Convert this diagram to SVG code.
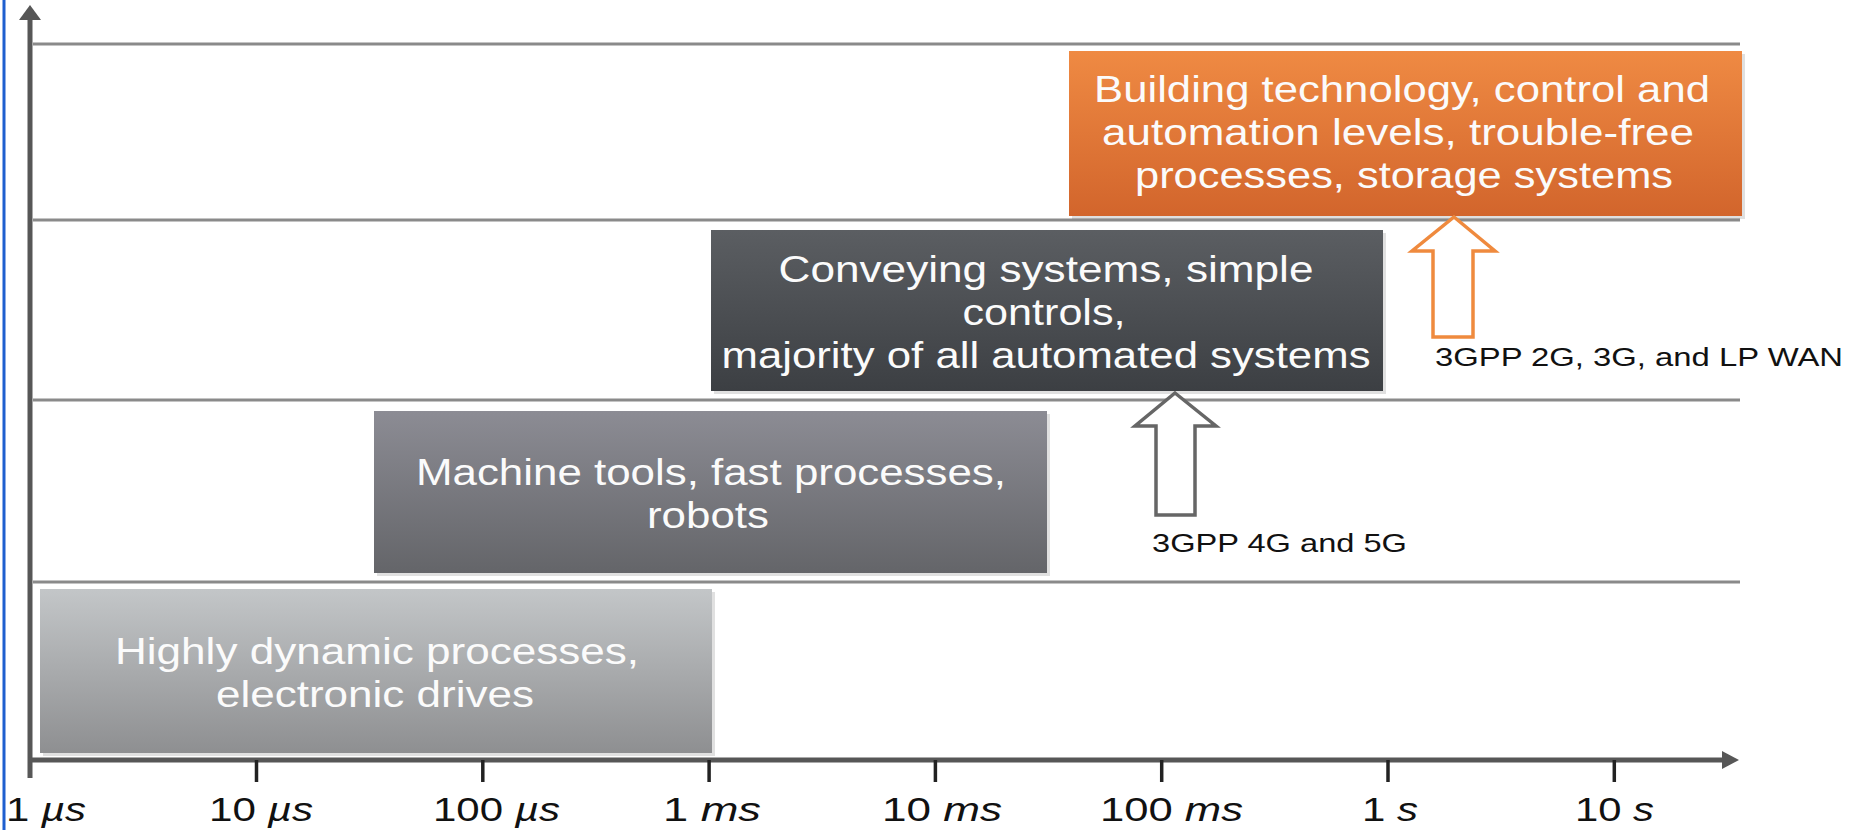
<svg xmlns="http://www.w3.org/2000/svg" width="1858" height="830" viewBox="0 0 1858 830">
  <style>
    .grid { stroke: #8a8a8a; stroke-width: 2.8; fill: none; }
    .axis { stroke: #575757; stroke-width: 5; fill: none; }
    .tick { stroke: #222; stroke-width: 3.5; }
    .ax-head { fill: #575757; }
    .box-text { font-family: "Liberation Sans", Arial, sans-serif; font-size: 36px; fill: #fbfbfb; text-anchor: middle; }
    .tick-label { font-family: "Liberation Sans", Arial, sans-serif; font-size: 34px; fill: #111; }
    .unit { font-style: italic; }
    .note { font-family: "Liberation Sans", Arial, sans-serif; font-size: 26px; fill: #111; }
    .box-shadow { fill: #000; opacity: 0.12; }
  </style>
  <defs>
    <linearGradient id="g-light" x1="0" y1="0" x2="0" y2="1">
      <stop offset="0" stop-color="#c3c6c8"/>
      <stop offset="1" stop-color="#8e8f91"/>
    </linearGradient>
    <linearGradient id="g-mid" x1="0" y1="0" x2="0" y2="1">
      <stop offset="0" stop-color="#8c8c94"/>
      <stop offset="1" stop-color="#646569"/>
    </linearGradient>
    <linearGradient id="g-dark" x1="0" y1="0" x2="0" y2="1">
      <stop offset="0" stop-color="#5b5e62"/>
      <stop offset="1" stop-color="#3c3f43"/>
    </linearGradient>
    <linearGradient id="g-orange" x1="0" y1="0" x2="0" y2="1">
      <stop offset="0" stop-color="#ef8a43"/>
      <stop offset="1" stop-color="#d2652c"/>
    </linearGradient>
  </defs>

  <rect width="1858" height="830" fill="#ffffff"/>
  <!-- left frame edge -->
  <line x1="4" y1="0" x2="4" y2="830" stroke="#1f5fcf" stroke-width="3"/>

  <!-- horizontal level lines -->
  <g id="grid">
    <line class="grid" x1="33" y1="44" x2="1740" y2="44"/>
    <line class="grid" x1="33" y1="220" x2="1740" y2="220"/>
    <line class="grid" x1="33" y1="400" x2="1740" y2="400"/>
    <line class="grid" x1="33" y1="582" x2="1740" y2="582"/>
  </g>

  <!-- axes with ticks -->
  <g id="axes">
    <line class="axis" x1="30" y1="778" x2="30" y2="16"/>
    <polygon class="ax-head" points="30,5 19,20 41,20"/>
    <line class="axis" x1="28" y1="760" x2="1724" y2="760"/>
    <polygon class="ax-head" points="1739,760 1722,751 1722,769"/>
    <line class="tick" x1="256.5" y1="760" x2="256.5" y2="782"/>
    <line class="tick" x1="482.8" y1="760" x2="482.8" y2="782"/>
    <line class="tick" x1="709.1" y1="760" x2="709.1" y2="782"/>
    <line class="tick" x1="935.4" y1="760" x2="935.4" y2="782"/>
    <line class="tick" x1="1161.7" y1="760" x2="1161.7" y2="782"/>
    <line class="tick" x1="1388" y1="760" x2="1388" y2="782"/>
    <line class="tick" x1="1614.3" y1="760" x2="1614.3" y2="782"/>
  </g>

  <!-- time scale labels -->
  <g id="tick-labels">
    <text class="tick-label" x="6" y="821" textLength="80" lengthAdjust="spacingAndGlyphs">1 <tspan class="unit">µs</tspan></text>
    <text class="tick-label" x="209" y="821" textLength="104" lengthAdjust="spacingAndGlyphs">10 <tspan class="unit">µs</tspan></text>
    <text class="tick-label" x="433" y="821" textLength="127" lengthAdjust="spacingAndGlyphs">100 <tspan class="unit">µs</tspan></text>
    <text class="tick-label" x="663" y="821" textLength="98" lengthAdjust="spacingAndGlyphs">1 <tspan class="unit">ms</tspan></text>
    <text class="tick-label" x="882" y="821" textLength="120" lengthAdjust="spacingAndGlyphs">10 <tspan class="unit">ms</tspan></text>
    <text class="tick-label" x="1100" y="821" textLength="143" lengthAdjust="spacingAndGlyphs">100 <tspan class="unit">ms</tspan></text>
    <text class="tick-label" x="1362" y="821" textLength="56" lengthAdjust="spacingAndGlyphs">1 <tspan class="unit">s</tspan></text>
    <text class="tick-label" x="1575" y="821" textLength="79" lengthAdjust="spacingAndGlyphs">10 <tspan class="unit">s</tspan></text>
  </g>

  <!-- application classes -->
  <g id="node-dynamic">
    <rect class="box-shadow" x="43" y="592" width="672" height="164"/>
    <rect x="40" y="589" width="672" height="164" fill="url(#g-light)"/>
    <text class="box-text" x="377" y="664" textLength="524" lengthAdjust="spacingAndGlyphs">Highly dynamic processes,</text>
    <text class="box-text" x="375" y="707" textLength="318" lengthAdjust="spacingAndGlyphs">electronic drives</text>
  </g>

  <g id="node-machine">
    <rect class="box-shadow" x="377" y="414" width="673" height="162"/>
    <rect x="374" y="411" width="673" height="162" fill="url(#g-mid)"/>
    <text class="box-text" x="711" y="485" textLength="590" lengthAdjust="spacingAndGlyphs">Machine tools, fast processes,</text>
    <text class="box-text" x="708" y="528" textLength="122" lengthAdjust="spacingAndGlyphs">robots</text>
  </g>

  <g id="node-conveying">
    <rect class="box-shadow" x="714" y="233" width="672" height="161"/>
    <rect x="711" y="230" width="672" height="161" fill="url(#g-dark)"/>
    <text class="box-text" x="1046" y="282" textLength="535" lengthAdjust="spacingAndGlyphs">Conveying systems, simple</text>
    <text class="box-text" x="1044" y="325" textLength="163" lengthAdjust="spacingAndGlyphs">controls,</text>
    <text class="box-text" x="1046" y="368" textLength="649" lengthAdjust="spacingAndGlyphs">majority of all automated systems</text>
  </g>

  <g id="node-building">
    <rect class="box-shadow" x="1072" y="54" width="673" height="165"/>
    <rect x="1069" y="51" width="673" height="165" fill="url(#g-orange)"/>
    <text class="box-text" x="1402" y="102" textLength="616" lengthAdjust="spacingAndGlyphs">Building technology, control and</text>
    <text class="box-text" x="1398" y="145" textLength="592" lengthAdjust="spacingAndGlyphs">automation levels, trouble-free</text>
    <text class="box-text" x="1404" y="188" textLength="538" lengthAdjust="spacingAndGlyphs">processes, storage systems</text>
  </g>

  <!-- hollow arrows pointing at the reachable class -->
  <g id="connectors">
    <polygon points="1175,393 1216,426 1195,426 1195,515 1156,515 1156,426 1135,426" fill="#ffffff" stroke="#666666" stroke-width="3.5" stroke-linejoin="miter"/>
    <polygon points="1454,217 1495,251 1473,251 1473,337 1433,337 1433,251 1412,251" fill="#ffffff" stroke="#ef8a3e" stroke-width="3.5" stroke-linejoin="miter"/>
  </g>

  <g id="label-4g5g">
    <text class="note" x="1152" y="552" textLength="255" lengthAdjust="spacingAndGlyphs">3GPP 4G and 5G</text>
  </g>
  <g id="label-2g3g">
    <text class="note" x="1435" y="366" textLength="408" lengthAdjust="spacingAndGlyphs">3GPP 2G, 3G, and LP WAN</text>
  </g>
</svg>
